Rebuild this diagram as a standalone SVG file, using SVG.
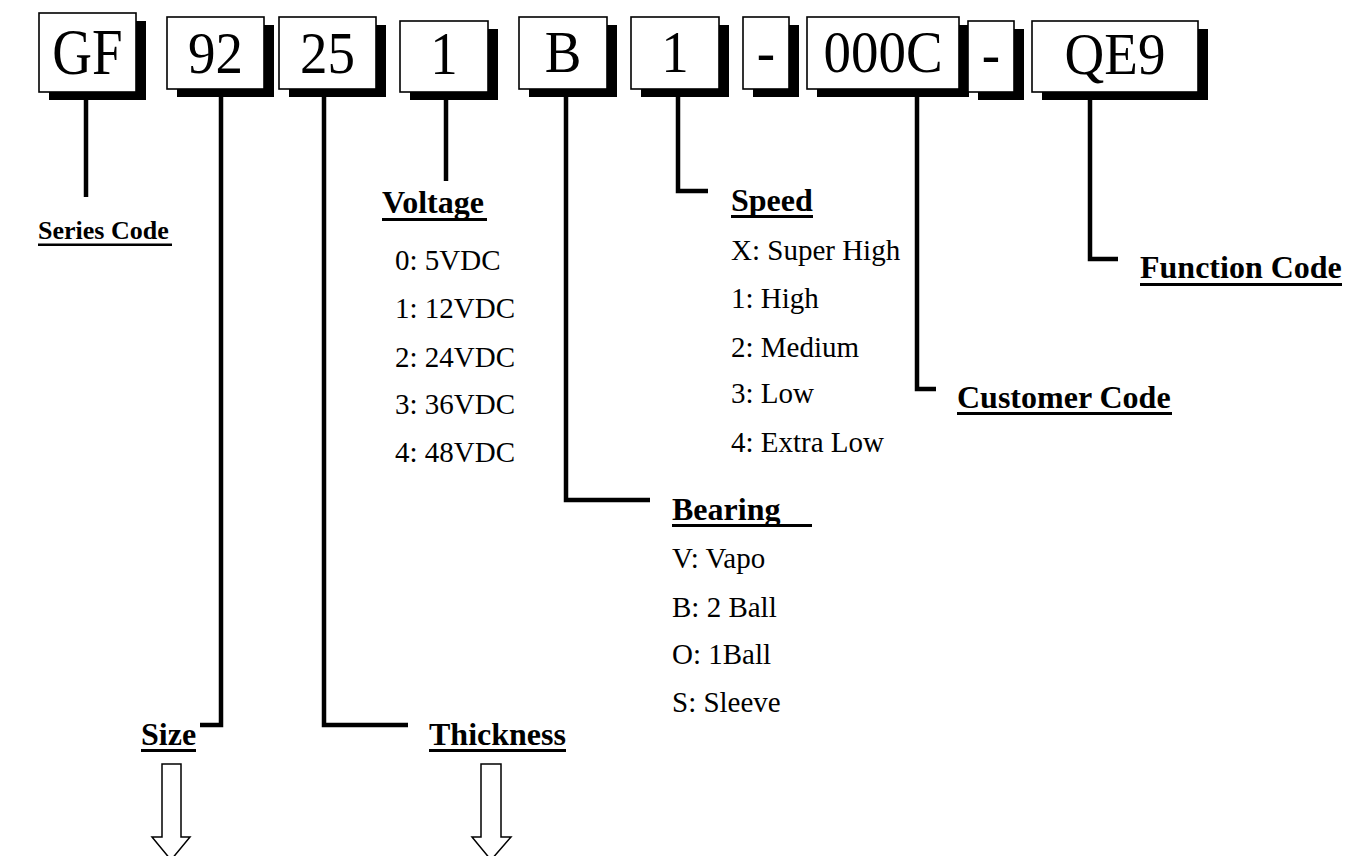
<svg xmlns="http://www.w3.org/2000/svg" width="1346" height="856" viewBox="0 0 1346 856">
<style>
.box{fill:#fff;stroke:#000;stroke-width:1.6}
.sh{fill:#000}
.bt{font-family:"Liberation Serif","Times New Roman",serif;font-size:55px;fill:#000;text-anchor:middle}
.hd{font-family:"Liberation Serif","Times New Roman",serif;font-size:32px;font-weight:bold;fill:#000}
.it{font-family:"Liberation Serif","Times New Roman",serif;font-size:29px;fill:#000}
.ul{fill:#000}
.con{fill:none;stroke:#000;stroke-width:4.5}
.arr{fill:#fff;stroke:#000;stroke-width:1.5}
</style>
<rect width="1346" height="856" fill="#fff"/>
<g id="box-gf"><rect class="sh" x="49" y="21" width="97" height="79"/><rect class="box" x="39" y="13" width="97" height="79"/><text class="bt" transform="translate(87.5,74) scale(1,1.2)">GF</text></g>
<g id="box-92"><rect class="sh" x="177" y="25" width="97" height="72"/><rect class="box" x="167" y="17" width="97" height="72"/><text class="bt" transform="translate(215.5,73) scale(1,1.08)">92</text></g>
<g id="box-25"><rect class="sh" x="289" y="25" width="97" height="72"/><rect class="box" x="279" y="17" width="97" height="72"/><text class="bt" transform="translate(327.5,73) scale(1,1.08)">25</text></g>
<g id="box-1v"><rect class="sh" x="410" y="29" width="88" height="71"/><rect class="box" x="400" y="21" width="88" height="71"/><text class="bt" transform="translate(444,74) scale(1,1.1)">1</text></g>
<g id="box-b"><rect class="sh" x="529" y="25" width="88" height="72"/><rect class="box" x="519" y="17" width="88" height="72"/><text class="bt" transform="translate(563,72) scale(1,1.08)">B</text></g>
<g id="box-1s"><rect class="sh" x="641" y="25" width="88" height="72"/><rect class="box" x="631" y="17" width="88" height="72"/><text class="bt" transform="translate(675,72) scale(1,1.08)">1</text></g>
<g id="box-dash1"><rect class="sh" x="753" y="25" width="46" height="72"/><rect class="box" x="743" y="17" width="46" height="72"/><text class="bt" transform="translate(766,72) scale(1,1.08)">-</text></g>
<g id="box-000c"><rect class="sh" x="817" y="25" width="152" height="72"/><rect class="box" x="807" y="17" width="152" height="72"/><text class="bt" transform="translate(883,72) scale(1,1.08)">000C</text></g>
<g id="box-dash2"><rect class="sh" x="978" y="29" width="46" height="71"/><rect class="box" x="968" y="21" width="46" height="71"/><text class="bt" transform="translate(991,74) scale(1,1.08)">-</text></g>
<g id="box-qe9"><rect class="sh" x="1042" y="29" width="166" height="71"/><rect class="box" x="1032" y="21" width="166" height="71"/><text class="bt" transform="translate(1115,74) scale(1,1.08)">QE9</text></g>
<g id="connectors">
<path class="con" d="M86,100 V197"/>
<path class="con" d="M221,97 V725 H200"/>
<path class="con" d="M324,97 V725 H408"/>
<path class="con" d="M446,100 V181"/>
<path class="con" d="M566,97 V500 H650"/>
<path class="con" d="M678,97 V191 H708"/>
<path class="con" d="M917,97 V389 H936"/>
<path class="con" d="M1090,100 V259 H1118"/>
<path class="arr" d="M162,764 H181 V837 H190 L171,860 L152,837 H162 Z"/>
<path class="arr" d="M481,764 H501 V837 H511 L491,860 L472,837 H481 Z"/>
</g>
<g id="label-series"><text class="hd" x="38" y="239" style="font-size:26px">Series Code</text><rect class="ul" x="38" y="243.5" width="134" height="2.5"/></g>
<g id="label-size"><text class="hd" x="141" y="745">Size</text><rect class="ul" x="141" y="749" width="55" height="3"/></g>
<g id="label-thickness"><text class="hd" x="429" y="745">Thickness</text><rect class="ul" x="429" y="749" width="137" height="3"/></g>
<g id="label-voltage"><text class="hd" x="382" y="213">Voltage</text><rect class="ul" x="382" y="218" width="105" height="3"/>
<text class="it" x="395" y="270">0: 5VDC</text><text class="it" x="395" y="318">1: 12VDC</text><text class="it" x="395" y="367">2: 24VDC</text><text class="it" x="395" y="414">3: 36VDC</text><text class="it" x="395" y="462">4: 48VDC</text></g>
<g id="label-speed"><text class="hd" x="731" y="211">Speed</text><rect class="ul" x="731" y="215" width="82" height="3"/>
<text class="it" x="731" y="260">X: Super High</text><text class="it" x="731" y="308">1: High</text><text class="it" x="731" y="357">2: Medium</text><text class="it" x="731" y="403">3: Low</text><text class="it" x="731" y="452">4: Extra Low</text></g>
<g id="label-bearing"><text class="hd" x="672" y="520">Bearing</text><rect class="ul" x="672" y="524" width="140" height="3"/>
<text class="it" x="672" y="568">V: Vapo</text><text class="it" x="672" y="617">B: 2 Ball</text><text class="it" x="672" y="664">O: 1Ball</text><text class="it" x="672" y="712">S: Sleeve</text></g>
<g id="label-customer"><text class="hd" x="957" y="408">Customer Code</text><rect class="ul" x="957" y="412" width="215" height="3"/></g>
<g id="label-function"><text class="hd" x="1140" y="278">Function Code</text><rect class="ul" x="1140" y="283" width="202" height="3"/></g>
</svg>
